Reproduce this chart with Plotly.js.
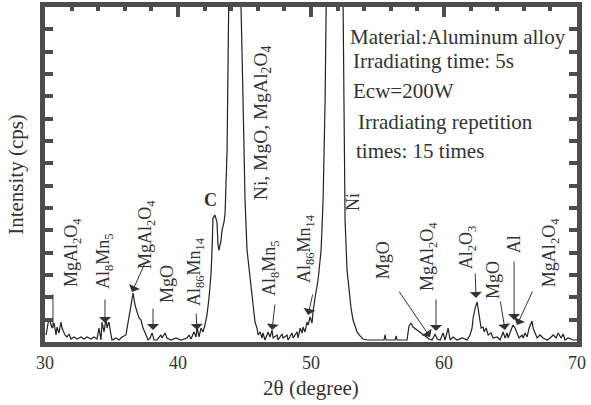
<!DOCTYPE html>
<html><head><meta charset="utf-8">
<script src="https://cdn.plot.ly/plotly-3.0.1.min.js"></script>
<style>html,body{margin:0;padding:0;background:#fff}#chart{width:591px;height:405px}</style>
</head><body><div id="chart"></div>
<script>
// ---- data (2θ in degrees, intensity in cps) ----
const twoTheta = [30.08,30.30,30.53,30.68,30.83,30.90,31.05,31.20,31.28,31.50,
31.65,31.80,31.96,32.18,32.41,32.71,32.93,33.16,33.46,33.68,
33.91,34.06,34.21,34.29,34.44,34.59,34.66,34.81,34.96,35.04,
35.34,35.56,35.79,36.09,36.17,36.32,36.47,36.62,36.77,36.92,
37.07,37.22,37.37,37.60,37.75,37.90,38.05,38.20,38.42,38.72,
38.80,39.02,39.17,39.48,39.85,40.23,40.68,40.83,40.98,41.20,
41.36,41.43,41.58,41.73,41.88,42.03,42.18,42.33,42.48,42.56,
42.63,42.78,42.93,43.01,43.08,43.24,43.31,43.46,43.54,43.69,
43.84,43.99,44.18,44.37,44.55,44.74,44.89,45.04,45.19,45.42,
45.57,45.64,45.79,45.94,46.02,46.17,46.32,46.39,46.54,46.69,
46.77,46.92,47.07,47.15,47.45,47.52,47.82,47.90,48.20,48.27,
48.57,48.65,48.95,49.03,49.18,49.33,49.40,49.55,49.70,49.78,
49.93,50.08,50.15,50.30,50.53,50.76,50.91,51.06,51.21,51.51,
51.81,52.11,52.41,52.48,52.56,52.71,52.86,53.01,53.16,53.31,
53.46,53.69,53.91,54.21,54.82,55.49,55.57,55.64,56.32,56.40,
56.47,57.22,57.37,57.52,57.67,57.97,58.28,58.58,58.88,59.10,
59.33,59.48,59.71,59.93,60.08,60.31,60.46,60.68,60.98,61.36,
61.74,61.96,62.11,62.19,62.34,62.49,62.56,62.64,62.79,62.94,
63.02,63.17,63.32,63.54,63.69,63.99,64.22,64.44,64.59,64.74,
64.82,65.04,65.19,65.34,65.49,65.64,65.87,65.95,66.10,66.25,
66.40,66.62,66.70,66.85,67.00,67.22,67.45,67.75,67.98,68.21,
68.43,68.58,68.81,68.96,69.10,69.33,69.71,70.00];
const intensity = [63,215,125,170,63,134,81,179,125,63,
45,72,27,45,27,45,27,45,27,45,
27,125,18,179,90,215,125,179,63,18,
36,18,45,63,125,215,331,439,331,269,
215,197,125,63,18,36,81,18,18,63,
36,81,36,18,36,18,36,63,27,90,
45,134,45,125,90,152,242,394,600,823,
1110,1137,1074,868,823,913,1002,1074,1155,1718,
2345,3000,6000,9000,6000,3000,2166,1271,823,555,
421,304,179,125,63,90,36,81,18,63,
90,45,107,36,63,18,72,36,63,18,
81,36,90,36,125,81,134,90,179,152,
224,170,269,394,555,823,1271,2166,3000,7000,
10000,7000,3000,1718,1092,644,448,304,197,134,
90,54,27,18,18,18,63,18,18,54,
18,18,143,170,134,107,81,54,27,18,
72,27,18,81,18,125,18,45,18,36,
18,63,125,215,304,358,304,215,125,134,
90,125,63,81,36,45,18,90,36,81,
36,107,152,125,81,36,63,36,81,45,
125,188,125,81,36,63,36,18,36,63,
36,81,36,72,18,36,18,18];
const xTickVals = [30,40,50,60,70];
const xTickText = ['30','40','50','60','70'];
const xTitle = '2θ (degree)';
const yTitle = 'Intensity (cps)';
const infoLines = ['Material:Aluminum alloy','Irradiating time: 5s','Ecw=200W','Irradiating repetition','times: 15 times'];

// ---- layout helpers ----
const FONT = 'Liberation Serif, Times New Roman, serif';
const INK = '#333333';
const FRAME = '#4d4d4d';

// rotated phase labels: [text, center 2θ, center intensity, font size]
const phaseLabels = [
  ['MgAl<sub>2</sub>O<sub>4</sub>', 32.03, 797, 18],
  ['Al<sub>8</sub>Mn<sub>5</sub>', 34.44, 725, 18],
  ['MgAl<sub>2</sub>O<sub>4</sub>', 37.60, 958, 18],
  ['MgO', 39.17, 519, 18],
  ['Al<sub>86</sub>Mn<sub>14</sub>', 41.36, 627, 18],
  ['Ni, MgO, MgAl<sub>2</sub>O<sub>4</sub>', 46.32, 1960, 19.5],
  ['Al<sub>8</sub>Mn<sub>5</sub>', 46.92, 662, 18],
  ['Al<sub>86</sub>Mn<sub>14</sub>', 49.55, 832, 18],
  ['Ni', 53.16, 1253, 18],
  ['MgO', 55.42, 734, 18],
  ['MgAl<sub>2</sub>O<sub>4</sub>', 58.80, 761, 18],
  ['Al<sub>2</sub>O<sub>3</sub>', 61.74, 850, 18],
  ['MgO', 63.69, 555, 18],
  ['Al', 65.27, 877, 18],
  ['MgAl<sub>2</sub>O<sub>4</sub>', 67.98, 797, 18]
];
// arrows: [tail 2θ, tail I, head 2θ, head I, head style]
const pointers = [
  [30.60, 439, 30.60, 125, 0],
  [34.51, 394, 34.51, 170, 1],
  [37.52, 707, 36.54, 448, 1],
  [38.12, 313, 38.12, 107, 1],
  [41.36, 268, 41.43, 107, 1],
  [47.30, 349, 47.07, 107, 1],
  [50.15, 439, 49.78, 242, 1],
  [56.55, 465, 58.95, 45, 1],
  [59.40, 394, 59.40, 98, 1],
  [62.34, 627, 62.41, 394, 1],
  [64.22, 376, 64.59, 107, 1],
  [65.27, 734, 65.27, 197, 1],
  [66.70, 465, 65.49, 152, 1]
];

const annotations = [];
phaseLabels.forEach(p => annotations.push({
  xref:'x', yref:'y', x:p[1], y:p[2], text:p[0], showarrow:false, textangle:-90,
  xanchor:'center', yanchor:'middle', font:{family:FONT, size:p[3], color:INK}
}));
pointers.forEach(p => annotations.push({
  xref:'x', yref:'y', axref:'x', ayref:'y', x:p[2], y:p[3], ax:p[0], ay:p[1],
  text:'', showarrow:true, arrowhead:p[4], arrowsize:2, arrowwidth:1, arrowcolor:INK, standoff:0
}));
annotations.push({xref:'x', yref:'y', x:42.48, y:1271, text:'<b>C</b>', showarrow:false,
  xanchor:'center', yanchor:'middle', font:{family:FONT, size:18, color:INK}});
const infoPos = [[0.569,0.910],[0.575,0.839],[0.575,0.749],[0.584,0.657],[0.581,0.570]];
infoLines.forEach((t,i) => annotations.push({xref:'paper', yref:'paper', x:infoPos[i][0], y:infoPos[i][1],
  text:t, showarrow:false, xanchor:'left', yanchor:'middle', font:{family:FONT, size:21, color:INK}}));

const data = [
  {x: twoTheta, y: intensity, type:'scatter', mode:'lines', line:{color:'#222222', width:1.2}, hoverinfo:'skip', showlegend:false},
  {x: [], y: [], xaxis:'x2', yaxis:'y', type:'scatter', mode:'lines', showlegend:false}
];

const layout = {
  width:591, height:405,
  margin:{l:45, r:14, t:7, b:63},
  paper_bgcolor:'#ffffff', plot_bgcolor:'#ffffff',
  font:{family:FONT, color:INK},
  showlegend:false,
  xaxis:{range:[30,70], tickvals:xTickVals, ticktext:xTickText, ticks:'', showgrid:false, zeroline:false,
    showline:true, linewidth:5, linecolor:FRAME, mirror:true,
    tickfont:{family:FONT, size:18, color:INK}, ticklabelstandoff:0,
    title:{text:xTitle, font:{family:FONT, size:21, color:INK}, standoff:10}},
  xaxis2:{overlaying:'x', matches:'x', side:'top', anchor:'y', range:[30,70], dtick:10, tick0:30,
    ticks:'inside', ticklen:10, tickwidth:4, tickcolor:FRAME, showticklabels:false, showgrid:false, zeroline:false, showline:false,
    minor:{ticks:'inside', ticklen:4, tickwidth:4, tickcolor:FRAME, dtick:2, showgrid:false}},
  yaxis:{range:[0,3000], dtick:1000, tick0:0, ticks:'inside', ticklen:8, tickwidth:4, tickcolor:FRAME,
    showticklabels:false, showgrid:false, zeroline:false, showline:true, linewidth:5, linecolor:FRAME, mirror:'allticks',
    minor:{ticks:'inside', ticklen:5, tickwidth:4, tickcolor:FRAME, dtick:200, showgrid:false},
    title:{text:yTitle, font:{family:FONT, size:21, color:INK}, standoff:12}},
  annotations: annotations
};
Plotly.newPlot('chart', data, layout, {displayModeBar:false, staticPlot:true});
</script>
</body></html>
